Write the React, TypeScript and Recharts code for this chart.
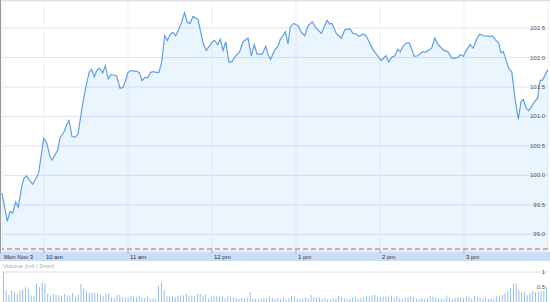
import {
  ComposedChart,
  Area,
  XAxis,
  YAxis,
  CartesianGrid,
  ReferenceLine,
  BarChart,
  Bar,
} from "recharts";

// minutes after 9:30 and last price
const minutes = [
  0, 3.8, 5.7, 7.6, 9.8, 11.6, 14.1, 15.7, 17.6, 19.5, 21.9, 24.3, 26.2, 27.9,
  29.8, 31.9, 34.3, 35.9, 37.9, 39.8, 41.4, 42.9, 44.3, 46.2, 47.9, 50.0, 52.1,
  54.3, 56.9, 60.0, 62.4, 64.1, 65.9, 67.6, 69.5, 70.5, 71.9, 73.8, 75.9, 77.9,
  80.0, 81.9, 84.3, 86.2, 88.1, 89.8, 91.9, 93.8, 96.2, 98.1, 100.0, 101.9,
  104.1, 106.2, 108.1, 110.0, 112.1, 114.1, 116.2, 118.1, 120.0, 121.9, 124.1,
  125.9, 128.4, 130.4, 132.3, 134.3, 136.4, 140.0, 141.6, 143.6, 145.9, 147.9,
  150.2, 151.9, 154.1, 155.9, 157.9, 159.8, 162.1, 164.1, 166.4, 169.8, 172.1,
  175.7, 178.1, 180.2, 182.1, 185.9, 188.4, 190.0, 191.9, 194.8, 197.1, 198.8,
  200.7, 202.4, 204.3, 205.9, 208.4, 211.4, 213.8, 216.2, 218.6, 221.6, 224.5,
  228.1, 232.1, 234.1, 235.7, 238.8, 242.4, 244.8, 248.4, 250.7, 253.1, 255.0,
  257.9, 260.0, 262.4, 264.8, 268.4, 270.7, 274.3, 276.2, 278.6, 280.7, 282.6,
  284.5, 286.6, 289.1, 290.9, 294.5, 296.9, 300.5, 302.4, 306.9, 309.1, 311.6,
  315.2, 318.8, 321.2, 323.6, 325.9, 327.6, 329.5, 331.9, 334.3, 336.6, 339.1,
  341.4, 343.8, 348.4, 350.2, 352.4, 354.8, 356.4, 358.1, 360.0, 361.9, 364.1,
  366.6, 368.8, 370.7, 372.4, 374.3, 376.2, 378.4, 380.2, 382.6, 384.3, 386.2,
  388.6, 390.0,
];
const prices = [
  99.7, 99.22, 99.39, 99.36, 99.55, 99.46, 99.81, 99.95, 99.99, 99.92, 99.85,
  99.95, 100.05, 100.32, 100.63, 100.55, 100.32, 100.26, 100.35, 100.43, 100.63,
  100.69, 100.74, 100.86, 100.93, 100.66, 100.65, 100.7, 101.11, 101.52, 101.76,
  101.8, 101.67, 101.78, 101.82, 101.79, 101.74, 101.86, 101.64, 101.71, 101.7,
  101.69, 101.48, 101.49, 101.59, 101.74, 101.78, 101.77, 101.77, 101.74,
  101.61, 101.66, 101.66, 101.75, 101.76, 101.75, 101.75, 101.93, 102.37,
  102.29, 102.39, 102.43, 102.37, 102.46, 102.61, 102.76, 102.6, 102.58, 102.7,
  102.65, 102.47, 102.25, 102.12, 102.19, 102.27, 102.29, 102.22, 102.31,
  102.12, 102.27, 101.92, 101.93, 102.01, 102.1, 102.27, 102.33, 102.03, 102.22,
  102.06, 102.06, 102.19, 102.05, 101.97, 102.13, 102.19, 102.31, 102.37,
  102.44, 102.23, 102.52, 102.58, 102.54, 102.43, 102.37, 102.54, 102.61,
  102.5, 102.41, 102.63, 102.57, 102.58, 102.41, 102.33, 102.47, 102.49,
  102.41, 102.4, 102.36, 102.4, 102.37, 102.26, 102.14, 102.03, 101.95, 102.03,
  101.93, 102.01, 102.03, 102.14, 102.1, 102.2, 102.25, 102.25, 102.02, 102.03,
  102.1, 102.09, 102.16, 102.33, 102.22, 102.13, 102.09, 101.99, 101.99,
  102.01, 102.05, 102.02, 102.13, 102.22, 102.16, 102.32, 102.4, 102.37,
  102.36, 102.37, 102.3, 102.25, 102.08, 102.1, 101.96, 101.82, 101.76, 101.28,
  100.95, 101.25, 101.29, 101.14, 101.1, 101.17, 101.25, 101.31, 101.61,
  101.62, 101.74, 101.79,
];

const priceTicks = [99, 99.5, 100, 100.5, 101, 101.5, 102, 102.5];
const timeTicks = [0, 30, 90, 150, 210, 270, 330];
const timeLabels = ["Mon Nov 3", "10 am", "11 am", "12 pm", "1 pm", "2 pm", "3 pm"];
const prevClose = 98.75;
const priceMin = 98.7;
const priceMax = 102.96;

// volume, mil per 2 min
const volume = [
  1.0, 0.38, 0.24, 0.38, 0.33, 0.27, 0.38, 0.41, 0.49, 0.44, 0.22, 0.22, 0.62,
  0.49, 0.64, 0.62, 0.27, 0.22, 0.27, 0.24, 0.22, 0.22, 0.27, 0.22, 0.22, 0.3,
  0.16, 0.24, 0.6, 0.47, 0.36, 0.31, 0.3, 0.3, 0.29, 0.24, 0.2, 0.27, 0.29, 0.16,
  0.13, 0.24, 0.24, 0.16, 0.16, 0.16, 0.2, 0.18, 0.16, 0.18, 0.13, 0.13, 0.18,
  0.11, 0.11, 0.11, 0.53, 0.67, 0.38, 0.18, 0.18, 0.18, 0.16, 0.2,
  0.22, 0.22, 0.27, 0.19, 0.22, 0.19, 0.27, 0.29, 0.22, 0.24, 0.11, 0.18, 0.19,
  0.19, 0.16, 0.18, 0.13, 0.22, 0.18, 0.16, 0.13, 0.11, 0.13, 0.11, 0.13, 0.33,
  0.11, 0.11, 0.09, 0.11, 0.13, 0.13, 0.18, 0.13, 0.11, 0.13, 0.11, 0.16, 0.11,
  0.13, 0.2, 0.18, 0.11, 0.11, 0.11, 0.16, 0.11, 0.24, 0.16, 0.13, 0.16, 0.11,
  0.13, 0.09, 0.09, 0.13, 0.11, 0.2, 0.16, 0.13, 0.11, 0.11, 0.16, 0.18, 0.11,
  0.13,
  0.16, 0.18, 0.18, 0.22, 0.24, 0.16, 0.18, 0.18, 0.18, 0.16, 0.22, 0.13, 0.18,
  0.13, 0.11, 0.13, 0.16, 0.18, 0.16, 0.11, 0.11, 0.13, 0.11, 0.13, 0.2, 0.18,
  0.16, 0.11, 0.13, 0.11, 0.22, 0.16, 0.11, 0.13, 0.16, 0.16, 0.13, 0.18, 0.16,
  0.11, 0.2, 0.16, 0.13, 0.11, 0.16, 0.11, 0.13, 0.11, 0.18, 0.22, 0.24, 0.29,
  0.38, 0.47, 0.62, 0.62, 0.38, 0.31, 0.33, 0.22, 0.31, 0.36, 0.33, 0.33, 0.36,
  0.38, 0.51,
];
const volumeTicks = [0.5, 1];

const priceData = minutes.map((m, i) => ({ m, price: prices[i] }));
const volumeData = volume.map((v, i) => ({ i, v }));

const font = "'Liberation Sans', Arial, sans-serif";

const TimeTick = (props: any) => {
  const { x, payload } = props;
  const label = timeLabels[timeTicks.indexOf(payload.value)];
  return (
    <g>
      {payload.value > 0 && (
        <line x1={x} x2={x} y1={249} y2={253} stroke="#aaa" />
      )}
      <text x={x + 2} y={259} fontSize={6} fill="#333" fontFamily={font}>
        {label}
      </text>
    </g>
  );
};

const PriceTick = (props: any) => {
  const { y, payload } = props;
  return (
    <text x={545} y={y + 2} fontSize={6} fill="#555" textAnchor="end" fontFamily={font}>
      {payload.value.toFixed(1)}
    </text>
  );
};

const VolTick = (props: any) => {
  const { y, payload } = props;
  return (
    <text x={545} y={y + 2} fontSize={6} fill="#555" textAnchor="end" fontFamily={font}>
      {String(payload.value)}
    </text>
  );
};

export default function App() {
  return (
    <div style={{ position: "fixed", left: 0, top: 0, width: 550, height: 302, background: "#fff", overflow: "hidden" }}>
      <div style={{ position: "absolute", left: 0, top: 252, width: 550, height: 9, background: "#c9ddf4" }} />
      <div style={{ position: "absolute", left: 0, top: 0, width: 550, height: 1, background: "#dcdcdc" }} />
      <div style={{ position: "absolute", left: 0, top: 0, width: 1, height: 253, background: "#999" }} />
      <div style={{ position: "absolute", left: 0, top: 0, zIndex: 1 }}>
        <ComposedChart width={550} height={261} data={priceData} margin={{ top: 1, right: 2, bottom: 0, left: 2 }}>
          <CartesianGrid vertical={false} stroke="#e2e2f0" />
          <CartesianGrid horizontal={false} stroke="#f1f1f8" />
          <XAxis
            dataKey="m"
            type="number"
            domain={[0, 390]}
            ticks={timeTicks}
            height={9}
            axisLine={false}
            tickLine={false}
            tick={TimeTick}
            interval={0}
          />
          <YAxis
            orientation="right"
            mirror
            type="number"
            domain={[priceMin, priceMax]}
            ticks={priceTicks}
            axisLine={false}
            tickLine={false}
            tick={PriceTick}
            interval={0}
          />
          <Area
            type="linear"
            dataKey="price"
            stroke="#5f9fe8"
            strokeWidth={1.2}
            fill="#3f9cf2"
            fillOpacity={0.1}
            baseValue={priceMin}
            dot={false}
            activeDot={false}
            isAnimationActive={false}
          />
          <ReferenceLine y={prevClose} stroke="#dd8a88" strokeWidth={1.5} strokeDasharray="5 3" />
        </ComposedChart>
      </div>
      <div style={{ position: "absolute", left: 3, top: 262, fontSize: 6, lineHeight: "8px", color: "#aaa", fontFamily: font }}>
        Volume (mil / 2min)
      </div>
      <div style={{ position: "absolute", left: 0, top: 268 }}>
        <BarChart width={550} height={34} data={volumeData} margin={{ top: 4, right: 2, bottom: 0, left: 2 }} barCategoryGap="35%">
          <XAxis dataKey="i" hide />
          <YAxis
            orientation="right"
            mirror
            type="number"
            domain={[0, 1]}
            ticks={volumeTicks}
            axisLine={false}
            tickLine={false}
            tick={VolTick}
            interval={0}
          />
          <ReferenceLine y={1} stroke="#e0e0e0" />
          <Bar dataKey="v" fill="#7fb3ee" isAnimationActive={false} />
        </BarChart>
      </div>
    </div>
  );
}
